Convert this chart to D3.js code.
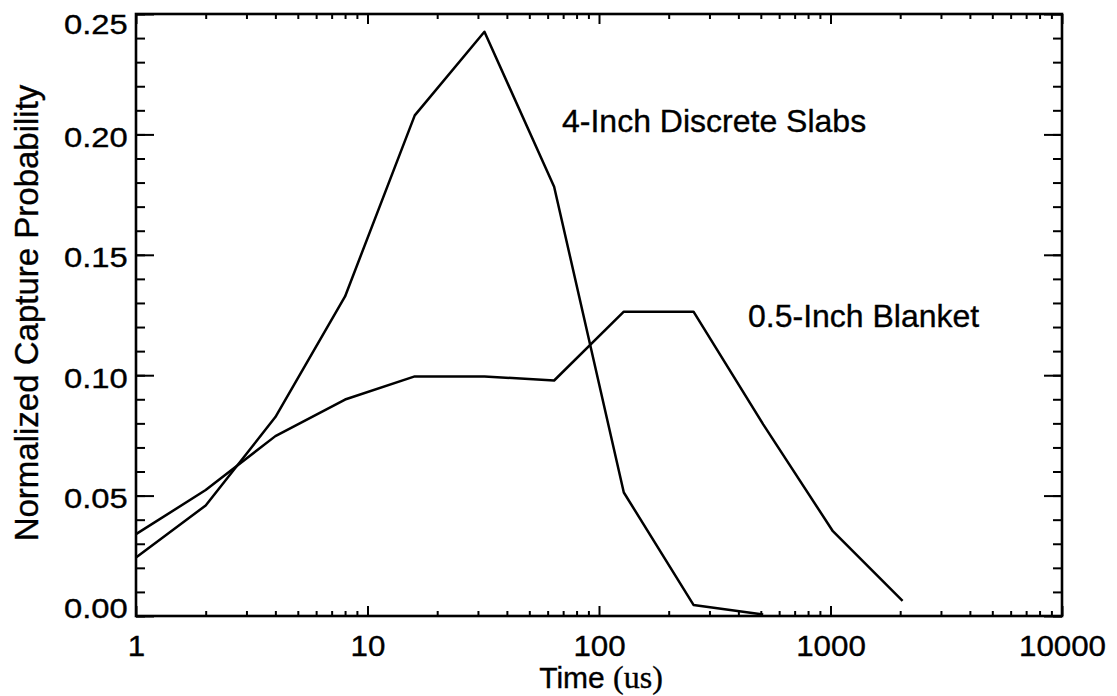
<!DOCTYPE html>
<html>
<head>
<meta charset="utf-8">
<script src="https://cdn.jsdelivr.net/npm/d3@7"></script>
<style>
  body { margin: 0; background: #fff; }
  svg text { font-family: "Liberation Sans", Arial, Helvetica, sans-serif; fill: #000; stroke: #000; stroke-width: 0.35px; }
</style>
</head>
<body>
<div id="chart"></div>
<script>
// time points (us)
const times = [1, 2, 4, 8, 16, 32, 64, 128, 256, 512, 1024, 2048];

// 4-Inch Discrete Slabs
const slabTimes = [1, 2, 4, 8, 16, 32, 64, 128, 256, 512];
const slabValues = [0.0243, 0.0459, 0.0826, 0.1327, 0.2079, 0.2426, 0.1783, 0.0513, 0.0046, 0.0006];

// 0.5-Inch Blanket
const blanketValues = [0.0340, 0.0523, 0.0747, 0.0899, 0.0995, 0.0995, 0.0978, 0.1264, 0.1264, 0.0796, 0.0352, 0.0063];

const seriesLabels = ["4-Inch Discrete Slabs", "0.5-Inch Blanket"];

const xMajor = [1, 10, 100, 1000, 10000];
const xMinor = [2, 3, 4, 5, 6, 7, 8, 9, 20, 30, 40, 50, 60, 70, 80, 90,
    200, 300, 400, 500, 600, 700, 800, 900, 2000, 3000, 4000, 5000, 6000, 7000, 8000, 9000];
const yMajor = [0, 0.05, 0.10, 0.15, 0.20, 0.25];
const yMinor = d3.range(0, 26).map(i => i / 100);

const W = 1117, H = 696;
const margin = { top: 14, right: 55, bottom: 80, left: 136 };

const svg = d3.select("#chart")
    .append("svg")
    .attr("width", W)
    .attr("height", H);

const x = d3.scaleLog()
    .domain([1, 10000])
    .range([margin.left, W - margin.right]);

const y = d3.scaleLinear()
    .domain([0, 0.25])
    .range([H - margin.bottom, margin.top]);

const x0 = margin.left, x1 = W - margin.right;
const y0 = H - margin.bottom, y1 = margin.top;

// axes with inward ticks
function clean(g) {
    g.select(".domain").remove();
    g.selectAll(".tick line").attr("stroke", "#000").attr("stroke-width", 2);
}

// bottom
svg.append("g")
    .attr("transform", `translate(0,${y0})`)
    .call(d3.axisBottom(x).tickValues(xMinor).tickSize(-5).tickSizeOuter(0).tickFormat(""))
    .call(clean);
svg.append("g")
    .attr("transform", `translate(0,${y0})`)
    .call(d3.axisBottom(x).tickValues(xMajor).tickSize(-10).tickSizeOuter(0).tickPadding(19).tickFormat(d3.format("d")))
    .call(clean)
    .call(g => g.selectAll("text")
        .attr("font-size", 29)
        .attr("transform", "scale(1.08,1)"));

// top
svg.append("g")
    .attr("transform", `translate(0,${y1})`)
    .call(d3.axisTop(x).tickValues(xMinor).tickSize(-5).tickSizeOuter(0).tickFormat(""))
    .call(clean);
svg.append("g")
    .attr("transform", `translate(0,${y1})`)
    .call(d3.axisTop(x).tickValues(xMajor).tickSize(-10).tickSizeOuter(0).tickFormat(""))
    .call(clean);

// left
svg.append("g")
    .attr("transform", `translate(${x0},0)`)
    .call(d3.axisLeft(y).tickValues(yMinor).tickSize(-9).tickSizeOuter(0).tickFormat(""))
    .call(clean);
svg.append("g")
    .attr("transform", `translate(${x0},0)`)
    .call(d3.axisLeft(y).tickValues(yMajor).tickSize(-18).tickSizeOuter(0).tickPadding(7).tickFormat(d3.format(".2f")))
    .call(clean)
    .call(g => g.selectAll("text")
        .attr("font-size", 28)
        .attr("dy", d => d === 0.25 ? 19 : d === 0 ? 1 : 12)
        .attr("transform", "scale(1.17,1)"));

// right
svg.append("g")
    .attr("transform", `translate(${x1},0)`)
    .call(d3.axisRight(y).tickValues(yMinor).tickSize(-9).tickSizeOuter(0).tickFormat(""))
    .call(clean);
svg.append("g")
    .attr("transform", `translate(${x1},0)`)
    .call(d3.axisRight(y).tickValues(yMajor).tickSize(-18).tickSizeOuter(0).tickFormat(""))
    .call(clean);

// frame
svg.append("rect")
    .attr("x", x0)
    .attr("y", y1)
    .attr("width", x1 - x0)
    .attr("height", y0 - y1)
    .attr("fill", "none")
    .attr("stroke", "#000")
    .attr("stroke-width", 2.6);

const line = d3.line()
    .x(d => x(d[0]))
    .y(d => y(d[1]));

svg.append("path")
    .datum(slabTimes.map((t, i) => [t, slabValues[i]]))
    .attr("fill", "none")
    .attr("stroke", "#000")
    .attr("stroke-width", 2.5)
    .attr("stroke-linejoin", "round")
    .attr("d", line);

svg.append("path")
    .datum(times.map((t, i) => [t, blanketValues[i]]))
    .attr("fill", "none")
    .attr("stroke", "#000")
    .attr("stroke-width", 2.5)
    .attr("stroke-linejoin", "round")
    .attr("d", line);

// series labels
svg.append("text")
    .attr("x", 562)
    .attr("y", 132)
    .attr("font-size", 32)
    .text(seriesLabels[0]);

svg.append("text")
    .attr("x", 748)
    .attr("y", 327)
    .attr("font-size", 32)
    .text(seriesLabels[1]);

// axis titles
const xt = svg.append("text")
    .attr("x", (x0 + x1) / 2 + 2)
    .attr("y", 688)
    .attr("text-anchor", "middle")
    .attr("font-size", 30);
xt.append("tspan").text("Time ");
xt.append("tspan").attr("font-family", "'Liberation Serif', 'Times New Roman', serif").attr("font-size", 32).text("(us)");

svg.append("text")
    .attr("transform", `translate(38,${(y0 + y1) / 2 - 2}) rotate(-90)`)
    .attr("text-anchor", "middle")
    .attr("font-size", 33)
    .text("Normalized Capture Probability");
</script>
</body>
</html>
